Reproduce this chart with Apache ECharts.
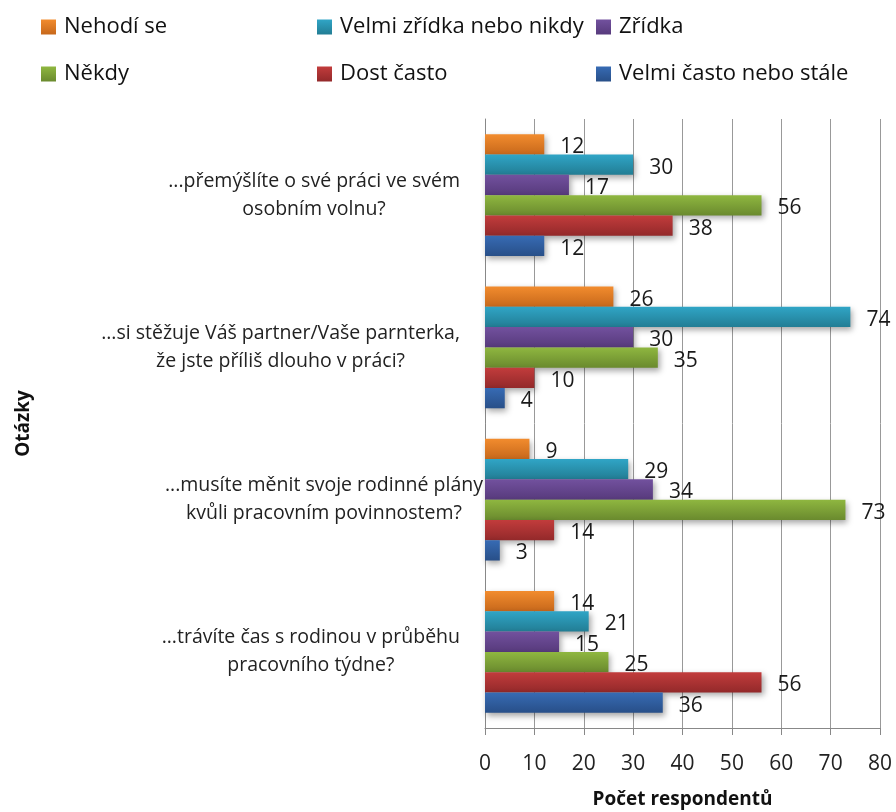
<!DOCTYPE html>
<html>
<head>
<meta charset="utf-8">
<style>
  html, body { margin: 0; padding: 0; background: #fff; }
  #chart { width: 896px; height: 812px; }
</style>
<script src="https://cdn.jsdelivr.net/npm/echarts@6/dist/echarts.min.js"></script>
</head>
<body>
<div id="chart"></div>
<script>
// otázky (shora dolů)
const questions = [
    '...přemýšlíte o své práci ve svém\nosobním volnu?',
    '...si stěžuje Váš partner/Vaše parnterka,\nže jste příliš dlouho v práci?',
    '...musíte měnit svoje rodinné plány\nkvůli pracovním povinnostem?',
    '...trávíte čas s rodinou v průběhu\npracovního týdne?'
];
const seriesNames = ['Nehodí se', 'Velmi zřídka nebo nikdy', 'Zřídka', 'Někdy', 'Dost často', 'Velmi často nebo stále'];
const nehodiSe = [12, 26, 9, 14];
const velmiZridka = [30, 74, 29, 21];
const zridka = [17, 30, 34, 15];
const nekdy = [56, 35, 73, 25];
const dostCasto = [38, 10, 14, 56];
const velmiCasto = [12, 4, 3, 36];
const xTicks = [0, 80, 10];

(function () {
    let myChart = echarts.init(document.getElementById('chart'));
    const values = [nehodiSe, velmiZridka, zridka, nekdy, dostCasto, velmiCasto];
    // barvy: horní a dolní okraj přechodu
    const colors = [
        ['#f28c2e', '#c7681b'],
        ['#30a5c6', '#227d94'],
        ['#72519e', '#573a7c'],
        ['#8fb740', '#6a8a2e'],
        ['#c23c3c', '#93292a'],
        ['#376bb4', '#284f88']
    ];
    // legenda ve dvou řádcích po třech
    const legendPos = [[41, 25], [317, 25], [596, 25], [41, 72], [317, 72], [596, 72]];
    const legends = seriesNames.map(function (n, i) {
        return {
            data: [n],
            left: legendPos[i][0] - 5,
            top: legendPos[i][1] - 14,
            itemWidth: 15,
            itemHeight: 15,
            itemGap: 0,
            icon: 'rect',
            textStyle: { fontFamily: 'Open Sans', fontSize: 22, color: '#111', padding: [0, 0, 0, 3] }
        };
    });

    // popisky kategorií: řádky na střed, blok zarovnaný doprava
    const labelStyle = { fontFamily: 'Open Sans', fontSize: 19.5, color: '#222', lineHeight: 28, align: 'center' };

    let option = {
        animation: false,
        legend: legends,
        grid: { left: 485, right: 16, top: 119, bottom: 84, containLabel: false, outerBoundsMode: 'none' },
        xAxis: {
            type: 'value',
            min: xTicks[0],
            max: xTicks[1],
            interval: xTicks[2],
            name: 'Počet respondentů',
            nameLocation: 'middle',
            nameGap: 62,
            nameTextStyle: { fontFamily: 'Open Sans', fontWeight: 'bold', fontSize: 19, color: '#111' },
            axisLine: { show: true, lineStyle: { color: '#888', width: 1 } },
            axisTick: { show: true, length: 7, lineStyle: { color: '#888' } },
            axisLabel: { fontFamily: 'Open Sans', fontSize: 21, color: '#222', margin: 26 },
            splitLine: { show: true, lineStyle: { color: '#999', width: 1 } }
        },
        yAxis: {
            type: 'category',
            inverse: true,
            data: questions,
            name: 'Otázky',
            nameLocation: 'middle',
            nameGap: 452,
            nameRotate: 90,
            nameTextStyle: { fontFamily: 'Open Sans', fontWeight: 'bold', fontSize: 19, color: '#111' },
            axisLine: { show: true, lineStyle: { color: '#888', width: 1 } },
            axisTick: { show: false },
            axisLabel: {
                align: 'right',
                margin: 2,
                formatter: function (value, index) {
                    const key = index === 2 ? 'b' : 'a';
                    return value.split('\n').map(function (s) {
                        return '{' + key + '|' + s + '}';
                    }).join('\n');
                },
                rich: {
                    a: Object.assign({ padding: [0, 23, 0, 0] }, labelStyle),
                    b: Object.assign({ padding: [0, 0, 0, 0] }, labelStyle)
                }
            },
            splitLine: { show: false }
        },
        series: seriesNames.map(function (n, i) {
            return {
                name: n,
                type: 'bar',
                data: values[i],
                barGap: '0%',
                barCategoryGap: '20%',
                itemStyle: {
                    color: new echarts.graphic.LinearGradient(0, 0, 0, 1, [
                        { offset: 0, color: colors[i][0] },
                        { offset: 1, color: colors[i][1] }
                    ]),
                    shadowColor: 'rgba(0,0,0,0.35)',
                    shadowBlur: 6,
                    shadowOffsetX: 2,
                    shadowOffsetY: 3
                },
                label: {
                    show: true,
                    position: 'right',
                    distance: 16,
                    offset: [0, 3],
                    fontFamily: 'Open Sans',
                    fontSize: 21,
                    color: '#1a1a1a'
                }
            };
        })
    };
    myChart.setOption(option);

    window.addEventListener('resize', function () {
        myChart.resize();
    });
})();
</script>
</body>
</html>
